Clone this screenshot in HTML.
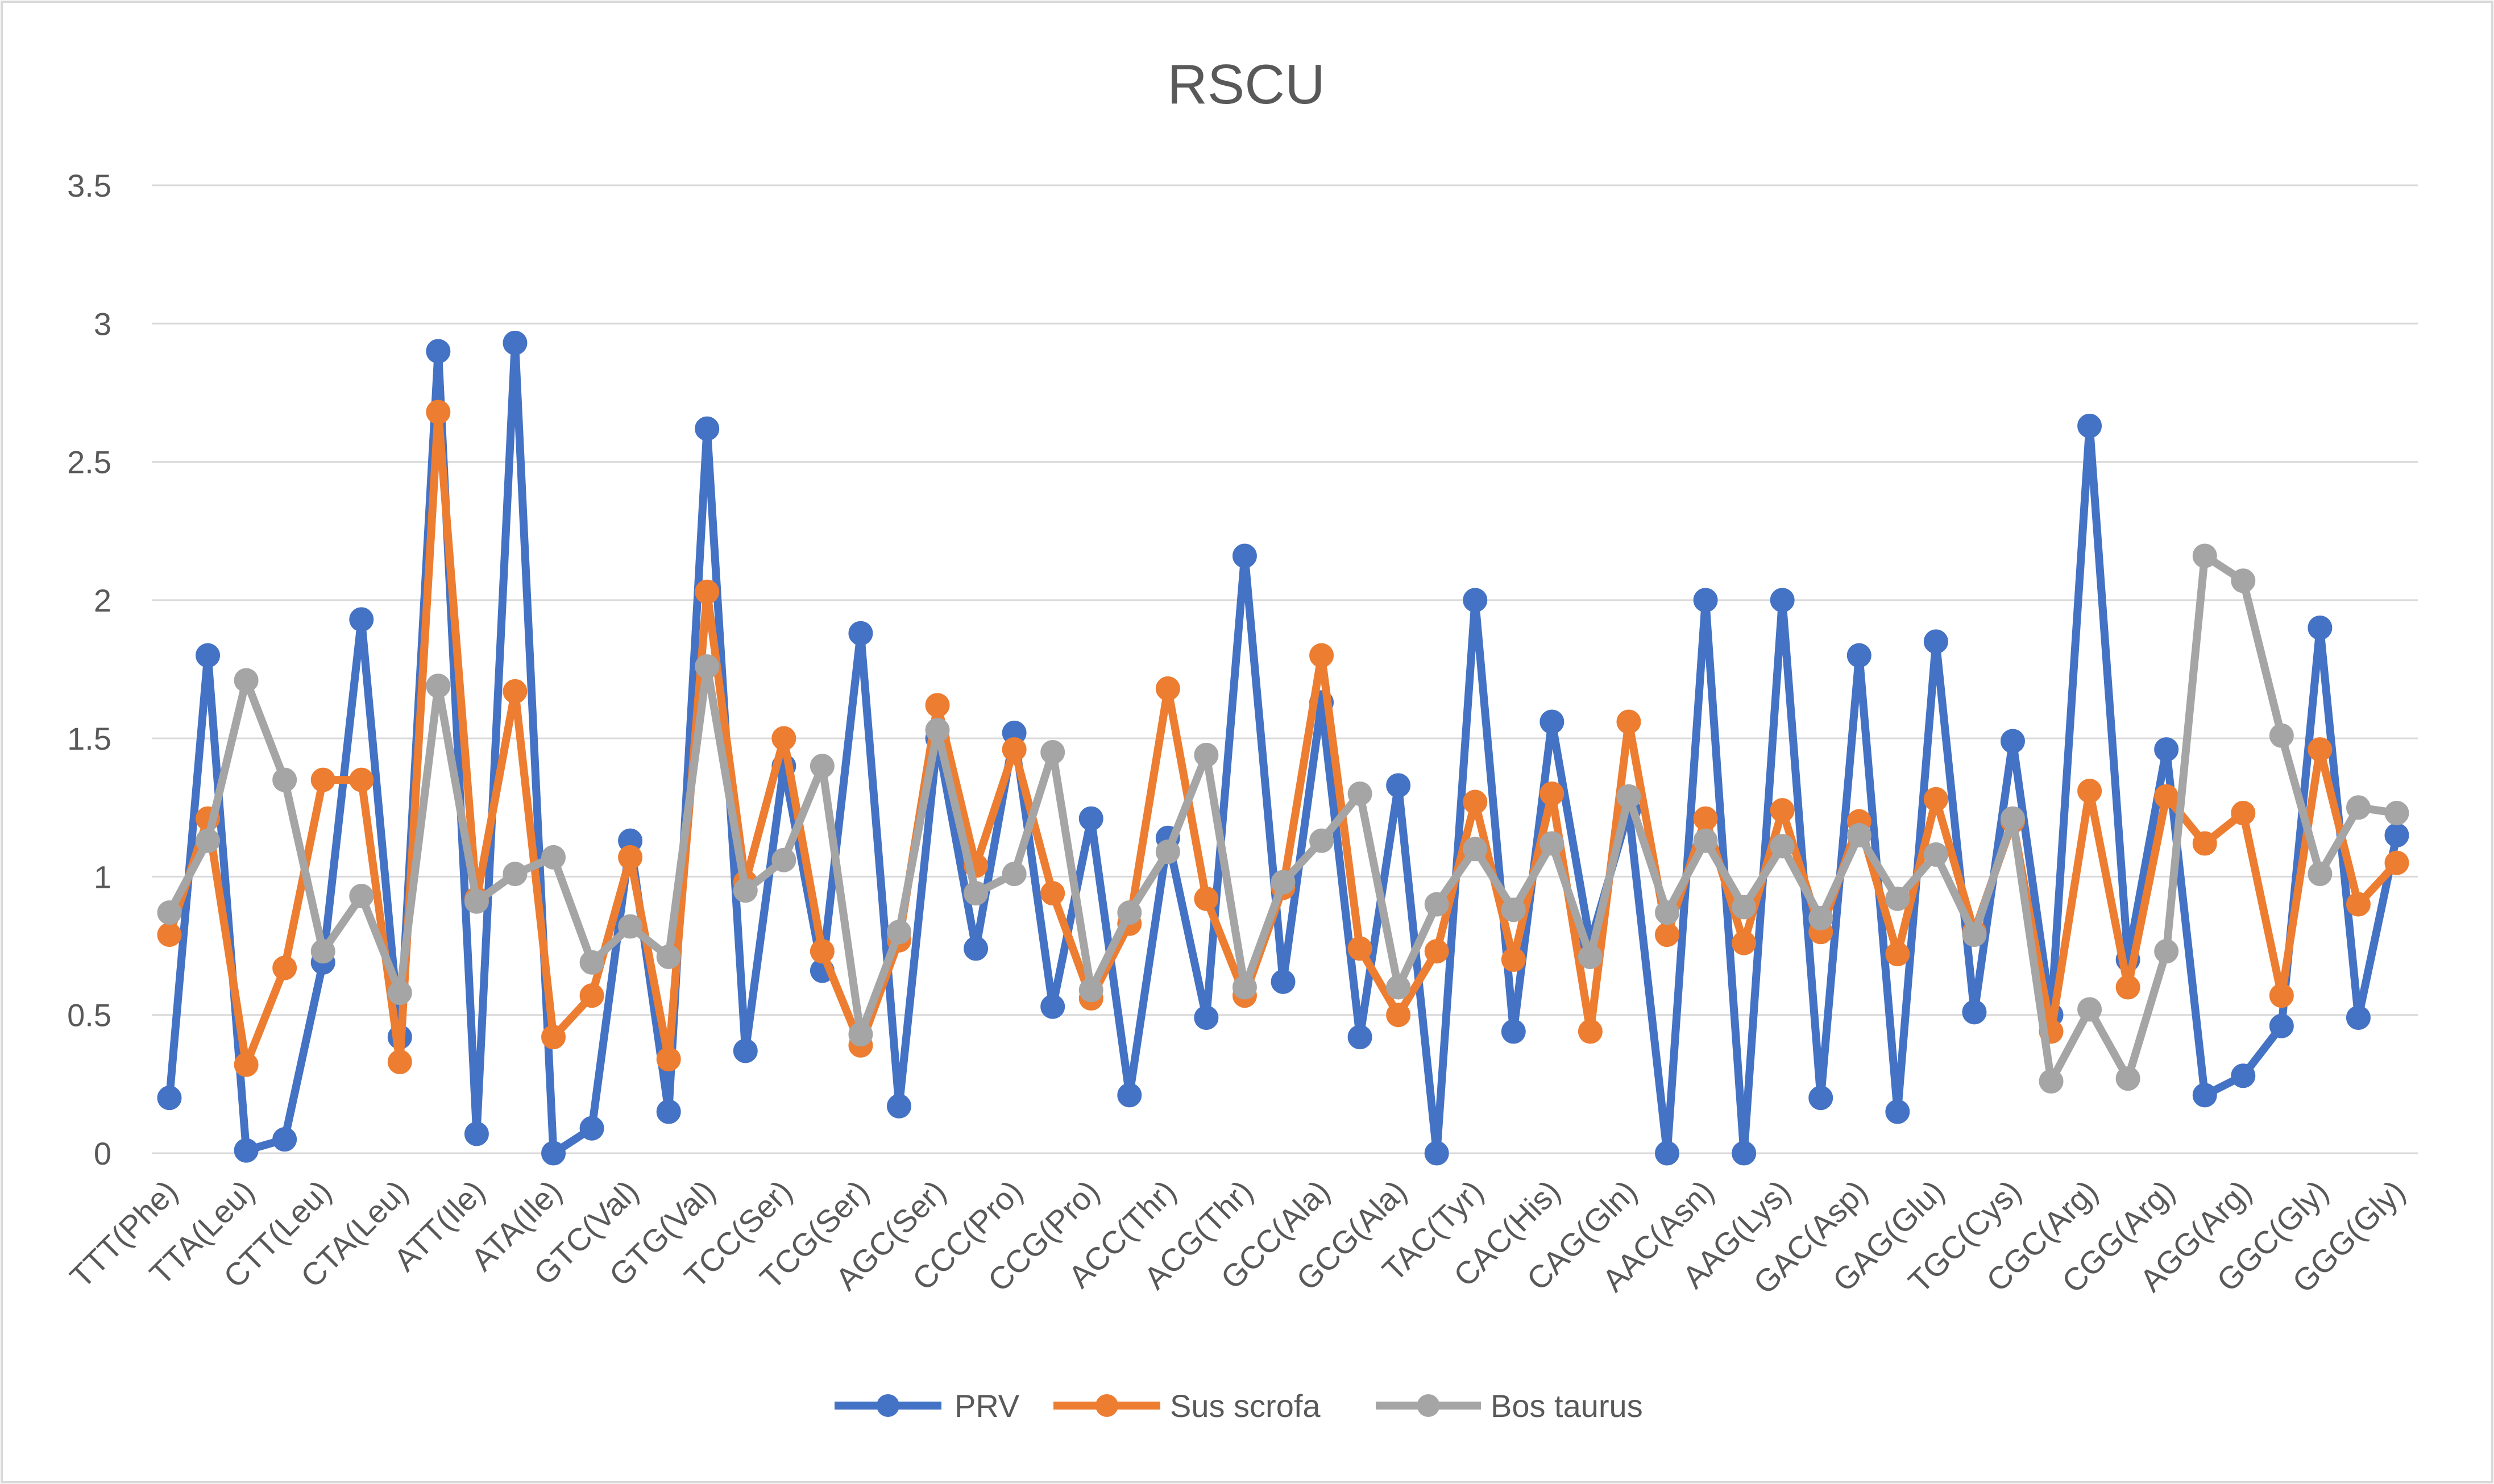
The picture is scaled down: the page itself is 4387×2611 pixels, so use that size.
<!DOCTYPE html>
<html><head><meta charset="utf-8"><style>
html,body{margin:0;padding:0;background:#fff;}
svg{display:block;font-family:"Liberation Sans",Calibri,sans-serif;}
</style></head><body>
<svg id="chart" width="4387" height="2611" viewBox="0 0 4387 2611" xmlns="http://www.w3.org/2000/svg">
<rect x="3" y="3" width="4381" height="2605" fill="#fff" stroke="#d9d9d9" stroke-width="4"/>
<text x="2192" y="182" font-size="98" fill="#595959" text-anchor="middle">RSCU</text>
<g id="grid"></g>
<g id="yticks"></g>
<g id="xticks"></g>
<g id="series"></g>
<g id="legend"></g>
</svg>
<script>
const categories=["TTT(Phe)","TTC(Phe)","TTA(Leu)","TTG(Leu)","CTT(Leu)","CTC(Leu)","CTA(Leu)","CTG(Leu)","ATT(Ile)","ATC(Ile)","ATA(Ile)","GTT(Val)","GTC(Val)","GTA(Val)","GTG(Val)","TCT(Ser)","TCC(Ser)","TCA(Ser)","TCG(Ser)","AGT(Ser)","AGC(Ser)","CCT(Pro)","CCC(Pro)","CCA(Pro)","CCG(Pro)","ACT(Thr)","ACC(Thr)","ACA(Thr)","ACG(Thr)","GCT(Ala)","GCC(Ala)","GCA(Ala)","GCG(Ala)","TAT(Tyr)","TAC(Tyr)","CAT(His)","CAC(His)","CAA(Gln)","CAG(Gln)","AAT(Asn)","AAC(Asn)","AAA(Lys)","AAG(Lys)","GAT(Asp)","GAC(Asp)","GAA(Glu)","GAG(Glu)","TGT(Cys)","TGC(Cys)","CGT(Arg)","CGC(Arg)","CGA(Arg)","CGG(Arg)","AGA(Arg)","AGG(Arg)","GGT(Gly)","GGC(Gly)","GGA(Gly)","GGG(Gly)"];
const prv=[0.2,1.8,0.01,0.05,0.69,1.93,0.42,2.9,0.07,2.93,0.0,0.09,1.13,0.15,2.62,0.37,1.4,0.66,1.88,0.17,1.5,0.74,1.52,0.53,1.21,0.21,1.14,0.49,2.16,0.62,1.63,0.42,1.33,0.0,2.0,0.44,1.56,0.76,1.24,0.0,2.0,0.0,2.0,0.2,1.8,0.15,1.85,0.51,1.49,0.5,2.63,0.7,1.46,0.21,0.28,0.46,1.9,0.49,1.15];
const susScrofa=[0.79,1.21,0.32,0.67,1.35,1.35,0.33,2.68,0.92,1.67,0.42,0.57,1.07,0.34,2.03,0.98,1.5,0.73,0.39,0.77,1.62,1.04,1.46,0.94,0.56,0.83,1.68,0.92,0.57,0.96,1.8,0.74,0.5,0.73,1.27,0.7,1.3,0.44,1.56,0.79,1.21,0.76,1.24,0.8,1.2,0.72,1.28,0.8,1.2,0.44,1.31,0.6,1.29,1.12,1.23,0.57,1.46,0.9,1.05];
const bosTaurus=[0.87,1.13,1.71,1.35,0.73,0.93,0.58,1.69,0.91,1.01,1.07,0.69,0.82,0.71,1.76,0.95,1.06,1.4,0.43,0.8,1.53,0.94,1.01,1.45,0.59,0.87,1.09,1.44,0.6,0.98,1.13,1.3,0.6,0.9,1.1,0.88,1.12,0.71,1.29,0.87,1.13,0.89,1.11,0.85,1.15,0.92,1.08,0.79,1.21,0.26,0.52,0.27,0.73,2.16,2.07,1.51,1.01,1.25,1.23];
const yTicks=[0,0.5,1,1.5,2,2.5,3,3.5];
const yTickLabels=["0","0.5","1","1.5","2","2.5","3","3.5"];
const seriesNames=["PRV","Sus scrofa","Bos taurus"];

const NS="http://www.w3.org/2000/svg";
const X0=298,X1=4216,Y0=2029,Y1=326;
function xs(i){return X0+(X1-X0)*i/(categories.length-1);}
function ys(v){return Y0-(Y0-Y1)*v/3.5;}
function mk(tag,attrs,parent){const e=document.createElementNS(NS,tag);for(const k in attrs)e.setAttribute(k,attrs[k]);parent.appendChild(e);return e;}

const grid=document.getElementById('grid'),yt=document.getElementById('yticks'),xt=document.getElementById('xticks');
yTicks.forEach((v,i)=>{
  const l=mk('line',{x1:267,x2:4253,y1:ys(v),y2:ys(v),stroke:i===0?'#d9d9d9':'#d9d9d9','stroke-width':3},grid);
  
  
  const t=mk('text',{x:196,y:ys(v)+20,'font-size':56,fill:'#595959','text-anchor':'end'},yt);
  t.textContent=yTickLabels[i];
  
  
});
categories.forEach((c,i)=>{
  if(i%2!==0)return;
  const x=xs(i),y=2082;
  const t=mk('text',{x:x+18,y:y+18,'font-size':56,fill:'#595959','text-anchor':'end',transform:`rotate(-45 ${x+18} ${y+18})`},xt);
  t.textContent=c;
  
  
});
const colors=["#4472C4","#ED7D31","#A5A5A5"];
const data=[prv,susScrofa,bosTaurus];
const sg=document.getElementById('series');
data.forEach((arr,s)=>{
  const g=mk('g',{},sg);
  
  
  const pts=arr.map((v,i)=>xs(i)+','+ys(v)).join(' ');
  const pl=mk('polyline',{points:pts,fill:'none',stroke:colors[s],'stroke-width':14,'stroke-linejoin':'round'},g);
  
  
  arr.forEach((v,i)=>{
    const c=mk('circle',{cx:xs(i),cy:ys(v),r:20,fill:colors[s],stroke:colors[s],'stroke-width':3},g);
    
    
  });
});
const lg=document.getElementById('legend');
const legX=[[1468,1656,1679],[1853,2041,2058],[2420,2605,2622]];
seriesNames.forEach((n,s)=>{
  const g=mk('g',{},lg);
  
  
  mk('line',{x1:legX[s][0],x2:legX[s][1],y1:2473,y2:2473,stroke:colors[s],'stroke-width':14},g);
  mk('circle',{cx:(legX[s][0]+legX[s][1])/2,cy:2473,r:20,fill:colors[s]},g);
  const t=mk('text',{x:legX[s][2],y:2493,'font-size':56,fill:'#595959'},g);
  t.textContent=n;
});
</script>
</body></html>
